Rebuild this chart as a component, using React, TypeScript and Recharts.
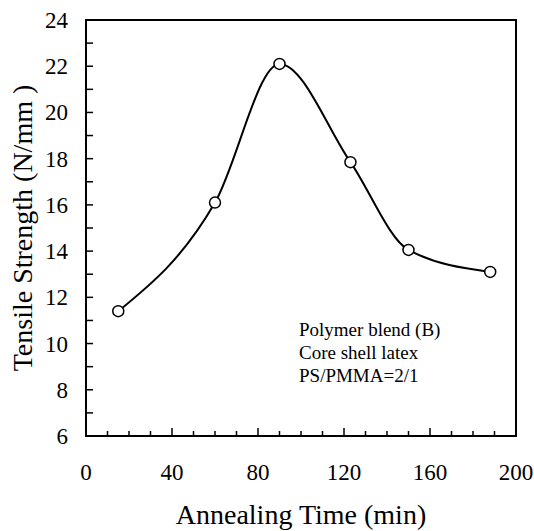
import { LineChart, Line, XAxis, YAxis, ReferenceArea, Customized } from 'recharts'

const times = [15, 60, 90, 123, 150, 188]
const strength = [11.4, 16.1, 22.1, 17.85, 14.05, 13.1]
const xTicks = [0, 10, 20, 30, 40, 50, 60, 70, 80, 90, 100, 110, 120, 130, 140, 150, 160, 170, 180, 190, 200]
const yTicks = [6, 7, 8, 9, 10, 11, 12, 13, 14, 15, 16, 17, 18, 19, 20, 21, 22, 23, 24]
const notes = ['Polymer blend (B)', 'Core shell latex', 'PS/PMMA=2/1']

const data = times.map((t, i) => ({ t, s: strength[i] }))

const FONT = '"Liberation Serif", "Times New Roman", serif'

const XTick = ({ x, y, payload }: any) => {
  const v = payload.value
  const major = v % 40 === 0
  return (
    <g>
      <line x1={x} x2={x} y1={y} y2={y - (major ? 8 : 5)} stroke='#000' strokeWidth={1.5} />
      {major && (
        <text x={x} y={y + 44} textAnchor='middle' style={{ fontSize: 23, fontFamily: FONT, fill: '#000' }}>{v}</text>
      )}
    </g>
  )
}

const YTick = ({ x, y, payload }: any) => {
  const v = payload.value
  return (
    <g>
      <line x1={x} x2={x + 7} y1={y} y2={y} stroke='#000' strokeWidth={1.5} />
      {v % 2 === 0 && (
        <text x={x - 18} y={y + 8} textAnchor='end' style={{ fontSize: 23, fontFamily: FONT, fill: '#000' }}>{v}</text>
      )}
    </g>
  )
}

const Notes = () => (
  <g>
    {notes.map((n, i) => (
      <text key={i} x={299} y={336 + i * 23} style={{ fontSize: 19, fontFamily: FONT, fill: '#000' }}>{n}</text>
    ))}
  </g>
)

export default function App() {
  return (
    <div style={{ position: 'absolute', left: 0, top: 0, background: '#fff' }}>
      <LineChart width={534} height={531} data={data}
        margin={{ top: 20, right: 18, left: 0, bottom: 0 }}>
        <ReferenceArea x1={0} x2={200} y1={6} y2={24} fill='none' stroke='#000' strokeWidth={2} />
        <XAxis dataKey='t' type='number' domain={[0, 200]} ticks={xTicks} interval={0}
          tickSize={0} tickMargin={0} tick={<XTick />} height={95}
          axisLine={{ stroke: '#000', strokeWidth: 2 }}
          label={{ value: 'Annealing Time (min)', position: 'insideBottom', offset: 7,
            style: { fontSize: 28, fontFamily: FONT, fill: '#000' } }} />
        <YAxis type='number' domain={[6, 24]} ticks={yTicks} interval={0}
          tickSize={0} tickMargin={0} tick={<YTick />} width={86}
          axisLine={{ stroke: '#000', strokeWidth: 2 }}
          label={{ value: 'Tensile Strength (N/mm )', angle: -90, position: 'insideLeft', offset: 22,
            style: { fontSize: 28, fontFamily: FONT, fill: '#000', textAnchor: 'middle' } }} />
        <Line type='monotone' dataKey='s' stroke='#000' strokeWidth={2} isAnimationActive={false}
          dot={{ r: 5.5, stroke: '#000', strokeWidth: 1.5, fill: '#fff' }} />
        <Customized component={Notes} />
      </LineChart>
    </div>
  )
}
